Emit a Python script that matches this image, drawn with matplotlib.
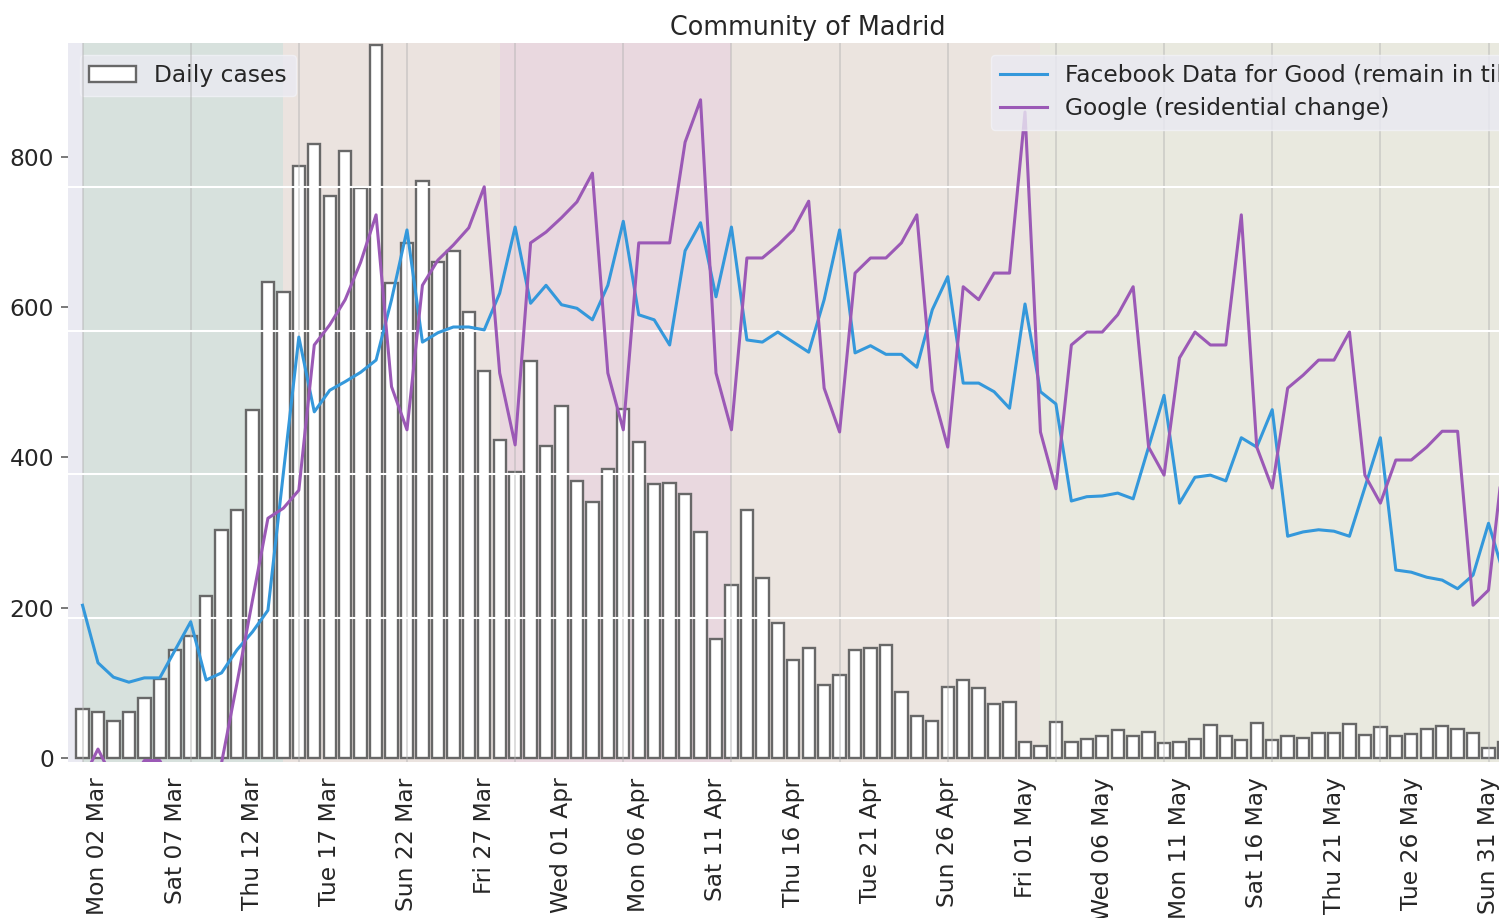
import numpy as np
import pandas as pd
import matplotlib
matplotlib.use("Agg")
import matplotlib.pyplot as plt
import matplotlib.dates as mdates
from matplotlib.ticker import FixedLocator

# ---------------- data ----------------
start_date = "2020-03-01"
cases = [66, 62, 49, 62, 80, 105, 144, 163, 216, 303,
         330, 463, 633, 620, 787, 817, 747, 808, 758, 949,
         632, 685, 767, 660, 674, 593, 515, 423, 380, 528,
         415, 469, 369, 341, 385, 465, 420, 365, 366, 351,
         301, 158, 230, 330, 239, 180, 130, 147, 98, 111,
         144, 146, 151, 88, 56, 49, 95, 104, 93, 72,
         75, 21, 16, 48, 21, 26, 30, 37, 30, 35,
         20, 22, 25, 44, 29, 24, 47, 24, 29, 27,
         33, 34, 45, 31, 42, 30, 32, 39, 43, 39,
         34, 13, 21]

facebook = [0.218, 0.138, 0.118, 0.111, 0.117, 0.117, 0.156, 0.195, 0.114, 0.124,
            0.156, 0.181, 0.211, 0.402, 0.591, 0.487, 0.517, 0.529, 0.542, 0.559,
            0.643, 0.740, 0.584, 0.597, 0.605, 0.605, 0.601, 0.652, 0.744, 0.638,
            0.663, 0.636, 0.631, 0.615, 0.663, 0.752, 0.622, 0.615, 0.580, 0.711,
            0.750, 0.647, 0.744, 0.587, 0.584, 0.598, 0.584, 0.570, 0.643, 0.740,
            0.569, 0.579, 0.567, 0.567, 0.549, 0.629, 0.675, 0.527, 0.527, 0.515,
            0.492, 0.637, 0.515, 0.498, 0.363, 0.369, 0.370, 0.374, 0.366, 0.438,
            0.510, 0.360, 0.396, 0.399, 0.391, 0.451, 0.438, 0.490, 0.314, 0.320,
            0.323, 0.321, 0.314, 0.382, 0.451, 0.267, 0.264, 0.257, 0.253, 0.241,
            0.260, 0.332, 0.260]

google = [-0.025, 0.018, -0.025, -0.032, 0.002, 0.002, -0.039, -0.053, -0.046, -0.001,
          0.110, 0.225, 0.339, 0.353, 0.378, 0.580, 0.608, 0.643, 0.695, 0.761,
          0.522, 0.462, 0.663, 0.698, 0.719, 0.743, 0.800, 0.541, 0.441, 0.722,
          0.737, 0.757, 0.779, 0.819, 0.541, 0.462, 0.722, 0.722, 0.722, 0.862,
          0.921, 0.541, 0.462, 0.701, 0.701, 0.719, 0.740, 0.780, 0.520, 0.459,
          0.680, 0.701, 0.701, 0.722, 0.761, 0.517, 0.438, 0.661, 0.643, 0.680,
          0.680, 0.904, 0.459, 0.380, 0.580, 0.598, 0.598, 0.622, 0.661, 0.438,
          0.399, 0.562, 0.598, 0.580, 0.580, 0.761, 0.438, 0.381, 0.520, 0.538,
          0.559, 0.559, 0.598, 0.399, 0.360, 0.420, 0.420, 0.438, 0.460, 0.460,
          0.218, 0.239, 0.430]

phase_starts = ["2020-03-01", "2020-03-14", "2020-03-28", "2020-04-12", "2020-05-02"]
phase_colors = ["#D7E1DD", "#EBE3DF", "#E9D8DF", "#EBE4DF", "#E9E9DF"]

label_first = "2020-03-02"
label_last = "2020-06-05"
title = "Community of Madrid"
bar_label = "Daily cases"
fb_label = "Facebook Data for Good (remain in tile)"
google_label = "Google (residential change)"

# ---------------- style ----------------
TXT = "#262626"
FS = 16.8
plt.rcParams["font.family"] = ["DejaVu Sans"]

dates = pd.date_range(start_date, periods=len(cases), freq="D")
x0 = mdates.date2num(pd.Timestamp(start_date))

W, H = 1499, 918
fig = plt.figure(figsize=(W / 100, H / 100), dpi=100)
ax = fig.add_axes([68 / W, 1 - 762 / H, 1480 / W, 719 / H])
ax.set_facecolor("#EAEAF2")
for sp in ax.spines.values():
    sp.set_visible(False)

xmin, xmax = x0 - 0.94, x0 + 94.85
ax.set_xlim(xmin, xmax)

# phase background spans
starts = [mdates.date2num(pd.Timestamp(s)) for s in phase_starts]
ends = starts[1:] + [xmax]
for s, e, c in zip(starts, ends, phase_colors):
    ax.axvspan(s, e, color=c, lw=0, zorder=0)

ax.bar(dates, cases, width=0.8, color="white", edgecolor="#686868",
       linewidth=1.7, label=bar_label, zorder=2)
ax.set_ylim(-5, 951)
ax.set_yticks([0, 200, 400, 600, 800])
ax.grid(False)

tick_dates = pd.date_range(label_first, label_last, freq="5D")
ax.xaxis.set_major_locator(FixedLocator(mdates.date2num(tick_dates)))
ax.xaxis.set_major_formatter(mdates.DateFormatter("%a %d %b"))
ax.tick_params(axis="x", which="both", length=0, pad=11, labelsize=FS,
               labelcolor=TXT, labelrotation=90)
ax.tick_params(axis="y", left=True, length=5, width=1.1, color="#555555",
               pad=5, labelsize=FS, labelcolor=TXT)

ax.set_title(title, fontsize=18.4, color=TXT)

leg1 = ax.legend(loc="upper left", fontsize=FS, facecolor="#EAEAF2",
                 framealpha=0.8, edgecolor="#F2F2F7", borderaxespad=0.5)
for t in leg1.get_texts():
    t.set_color(TXT)

# twin axis for the mobility lines
ax2 = ax.twinx()
for sp in ax2.spines.values():
    sp.set_visible(False)
ax2.set_ylim(0, 1)
ax2.set_yticks([0.2, 0.4, 0.6, 0.8])
ax2.grid(axis="y", color="white", lw=1.5)
ax2.tick_params(axis="y", right=False, labelright=False)
for d in pd.date_range("2020-03-01", "2020-06-07", freq="W-SUN"):
    ax2.axvline(d, color="#b5b5b5", lw=1.2, alpha=0.55, zorder=1)

ax2.plot(dates, facebook, color="#3498db", lw=2.2, label=fb_label, zorder=3)
ax2.plot(dates, google, color="#9b59b6", lw=2.2, label=google_label, zorder=3)

leg2 = ax2.legend(loc="upper right", fontsize=FS, facecolor="#EAEAF2",
                  framealpha=0.8, edgecolor="#F2F2F7", borderaxespad=0.5,
                  labelspacing=0.45)
for t in leg2.get_texts():
    t.set_color(TXT)

fig.savefig("out.png", dpi=100)
